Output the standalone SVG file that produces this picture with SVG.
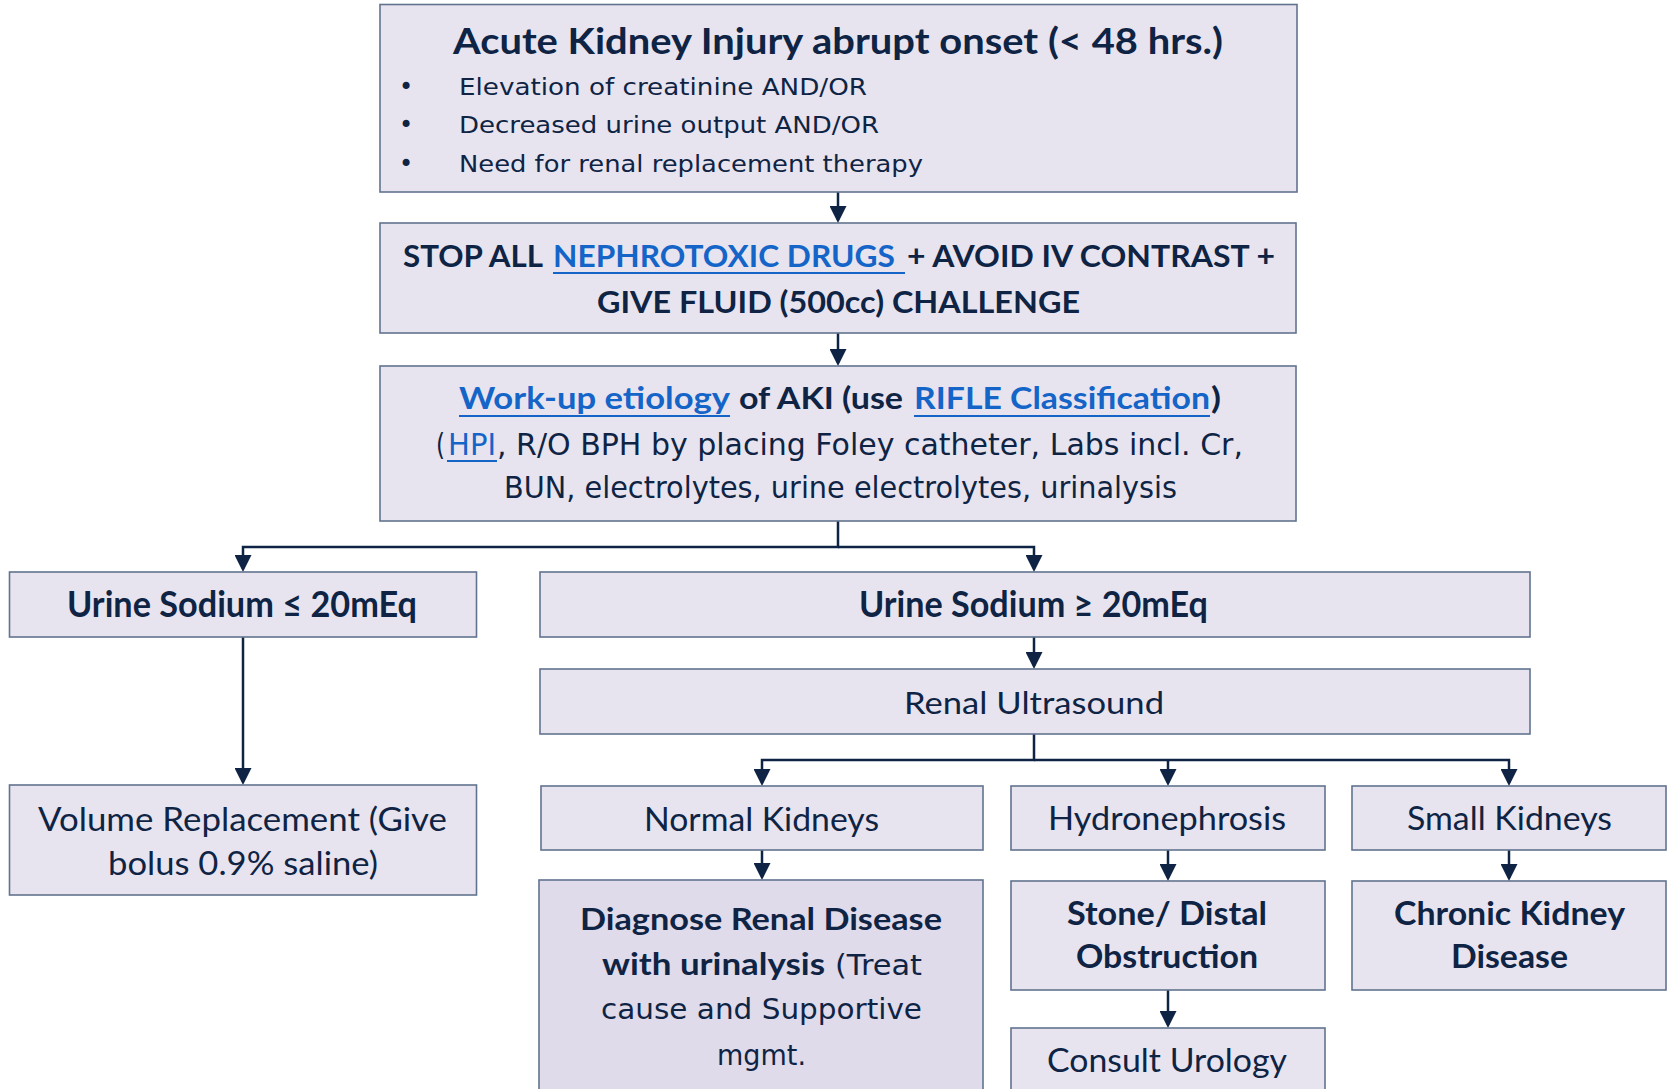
<svg xmlns="http://www.w3.org/2000/svg" width="1669" height="1089" viewBox="0 0 1669 1089">
<defs>
<style>
.box{fill:#E7E4F0;stroke:#62738F;stroke-width:1.6}
.box2{fill:#DFDBEB;stroke:#62738F;stroke-width:1.6}
.b{font-family:Lato,"Liberation Sans",sans-serif;font-weight:bold;fill:#0F2444}
.r{font-family:Lato,"Liberation Sans",sans-serif;fill:#0F2444}
.g{font-family:"DejaVu Sans","Liberation Sans",sans-serif;fill:#0F2444}
.lk{fill:#1565C8}
.ul{stroke:#1565C8;stroke-width:2}
.conn{fill:none;stroke:#0F2444;stroke-width:2.5}
</style>
<marker id="ah" markerUnits="userSpaceOnUse" markerWidth="17" markerHeight="17" viewBox="0 0 17 17" refX="14" refY="8.5" orient="auto">
<path d="M0,0 L17,8.5 L0,17 Z" fill="#0F2444"/>
</marker>
</defs>

<g id="connectors">
<path class="conn" d="M838 192 V220" marker-end="url(#ah)"/>
<path class="conn" d="M838 333 V363" marker-end="url(#ah)"/>
<path class="conn" d="M838 521 V547 H243 V569" marker-end="url(#ah)"/>
<path class="conn" d="M838 547 H1034 V569" marker-end="url(#ah)"/>
<path class="conn" d="M1034 637 V666" marker-end="url(#ah)"/>
<path class="conn" d="M243 637 V782" marker-end="url(#ah)"/>
<path class="conn" d="M1034 734 V760 H762 V783" marker-end="url(#ah)"/>
<path class="conn" d="M1034 760 H1509 V783" marker-end="url(#ah)"/>
<path class="conn" d="M1168 760 V783" marker-end="url(#ah)"/>
<path class="conn" d="M762 850 V877" marker-end="url(#ah)"/>
<path class="conn" d="M1168 850 V878" marker-end="url(#ah)"/>
<path class="conn" d="M1509 850 V878" marker-end="url(#ah)"/>
<path class="conn" d="M1168 990 V1025" marker-end="url(#ah)"/>
</g>

<g id="n1">
<rect class="box" x="380" y="4.5" width="917" height="187.5"/>
<text class="b" x="453" y="54" font-size="37" textLength="770" lengthAdjust="spacingAndGlyphs">Acute Kidney Injury abrupt onset (&lt; 48 hrs.)</text>
<text class="g" x="399" y="95" font-size="24">•</text>
<text class="g" x="399" y="133" font-size="24">•</text>
<text class="g" x="399" y="172" font-size="24">•</text>
<text class="g" x="459" y="95" font-size="23" textLength="408" lengthAdjust="spacingAndGlyphs">Elevation of creatinine AND/OR</text>
<text class="g" x="459" y="133" font-size="23" textLength="420" lengthAdjust="spacingAndGlyphs">Decreased urine output AND/OR</text>
<text class="g" x="459" y="172" font-size="23" textLength="464" lengthAdjust="spacingAndGlyphs">Need for renal replacement therapy</text>
</g>

<g id="n2">
<rect class="box" x="380" y="223" width="916" height="110"/>
<text class="b" x="403" y="267" font-size="31" textLength="140" lengthAdjust="spacingAndGlyphs">STOP ALL</text>
<text class="b lk" x="553" y="267" font-size="31" textLength="342" lengthAdjust="spacingAndGlyphs">NEPHROTOXIC DRUGS</text>
<line class="ul" x1="553" y1="273" x2="905" y2="273"/>
<text class="b" x="907" y="267" font-size="31" textLength="368" lengthAdjust="spacingAndGlyphs">+ AVOID IV CONTRAST +</text>
<text class="b" x="597" y="313" font-size="31" textLength="483" lengthAdjust="spacingAndGlyphs">GIVE FLUID (500cc) CHALLENGE</text>
</g>

<g id="n3">
<rect class="box" x="380" y="366" width="916" height="155"/>
<text class="b lk" x="459" y="409" font-size="31" textLength="271" lengthAdjust="spacingAndGlyphs">Work-up etiology</text>
<line class="ul" x1="459" y1="416" x2="730" y2="416"/>
<text class="b" x="739" y="409" font-size="31" textLength="164" lengthAdjust="spacingAndGlyphs">of AKI (use</text>
<text class="b lk" x="914" y="409" font-size="31" textLength="296" lengthAdjust="spacingAndGlyphs">RIFLE Classification</text>
<line class="ul" x1="914" y1="416" x2="1210" y2="416"/>
<text class="b" x="1211" y="409" font-size="31" textLength="10" lengthAdjust="spacingAndGlyphs">)</text>
<text class="g" x="436" y="455" font-size="30" textLength="9" lengthAdjust="spacingAndGlyphs">(</text>
<text class="g lk" x="448" y="455" font-size="30" textLength="48" lengthAdjust="spacingAndGlyphs">HPI</text>
<line class="ul" x1="447" y1="461" x2="497" y2="461"/>
<text class="g" x="497" y="455" font-size="30" textLength="746" lengthAdjust="spacingAndGlyphs">, R/O BPH by placing Foley catheter, Labs incl. Cr,</text>
<text class="g" x="504" y="498" font-size="30" textLength="673" lengthAdjust="spacingAndGlyphs">BUN, electrolytes, urine electrolytes, urinalysis</text>
</g>

<g id="n4">
<rect class="box" x="9.5" y="572" width="467" height="65"/>
<text class="b" x="67" y="617" font-size="37" textLength="350" lengthAdjust="spacingAndGlyphs">Urine Sodium ≤ 20mEq</text>
</g>

<g id="n5">
<rect class="box" x="540" y="572" width="990" height="65"/>
<text class="b" x="859" y="617" font-size="37" textLength="349" lengthAdjust="spacingAndGlyphs">Urine Sodium ≥ 20mEq</text>
</g>

<g id="n6">
<rect class="box" x="540" y="669" width="990" height="65"/>
<text class="r" x="904" y="714" font-size="31" textLength="260" lengthAdjust="spacingAndGlyphs">Renal Ultrasound</text>
</g>

<g id="n7">
<rect class="box" x="9.5" y="785" width="467" height="110"/>
<text class="r" x="38" y="831" font-size="32" textLength="409" lengthAdjust="spacingAndGlyphs">Volume Replacement (Give</text>
<text class="r" x="108" y="875" font-size="32" textLength="270" lengthAdjust="spacingAndGlyphs">bolus 0.9% saline)</text>
</g>

<g id="n8">
<rect class="box" x="541" y="786" width="442" height="64"/>
<text class="r" x="644" y="831" font-size="32" textLength="235" lengthAdjust="spacingAndGlyphs">Normal Kidneys</text>
</g>

<g id="n9">
<rect class="box" x="1011" y="786" width="314" height="64"/>
<text class="r" x="1048" y="830" font-size="32" textLength="238" lengthAdjust="spacingAndGlyphs">Hydronephrosis</text>
</g>

<g id="n10">
<rect class="box" x="1352" y="786" width="314" height="64"/>
<text class="r" x="1407" y="830" font-size="32" textLength="205" lengthAdjust="spacingAndGlyphs">Small Kidneys</text>
</g>

<g id="n11">
<rect class="box2" x="539" y="880" width="444" height="220"/>
<text class="b" x="580" y="930" font-size="31" textLength="362" lengthAdjust="spacingAndGlyphs">Diagnose Renal Disease</text>
<text class="b" x="602" y="975" font-size="31" textLength="223" lengthAdjust="spacingAndGlyphs">with urinalysis</text>
<text class="g" x="835" y="975" font-size="29" textLength="87" lengthAdjust="spacingAndGlyphs">(Treat</text>
<text class="g" x="601" y="1019" font-size="29" textLength="321" lengthAdjust="spacingAndGlyphs">cause and Supportive</text>
<text class="g" x="717" y="1065" font-size="29" textLength="89" lengthAdjust="spacingAndGlyphs">mgmt.</text>
</g>

<g id="n12">
<rect class="box" x="1011" y="881" width="314" height="109"/>
<text class="b" x="1067" y="925" font-size="33" textLength="200" lengthAdjust="spacingAndGlyphs">Stone/ Distal</text>
<text class="b" x="1076" y="968" font-size="33" textLength="182" lengthAdjust="spacingAndGlyphs">Obstruction</text>
</g>

<g id="n13">
<rect class="box" x="1352" y="881" width="314" height="109"/>
<text class="b" x="1394" y="925" font-size="33" textLength="231" lengthAdjust="spacingAndGlyphs">Chronic Kidney</text>
<text class="b" x="1451" y="968" font-size="33" textLength="117" lengthAdjust="spacingAndGlyphs">Disease</text>
</g>

<g id="n14">
<rect class="box" x="1011" y="1028" width="314" height="80"/>
<text class="r" x="1047" y="1072" font-size="32" textLength="240" lengthAdjust="spacingAndGlyphs">Consult Urology</text>
</g>
</svg>
